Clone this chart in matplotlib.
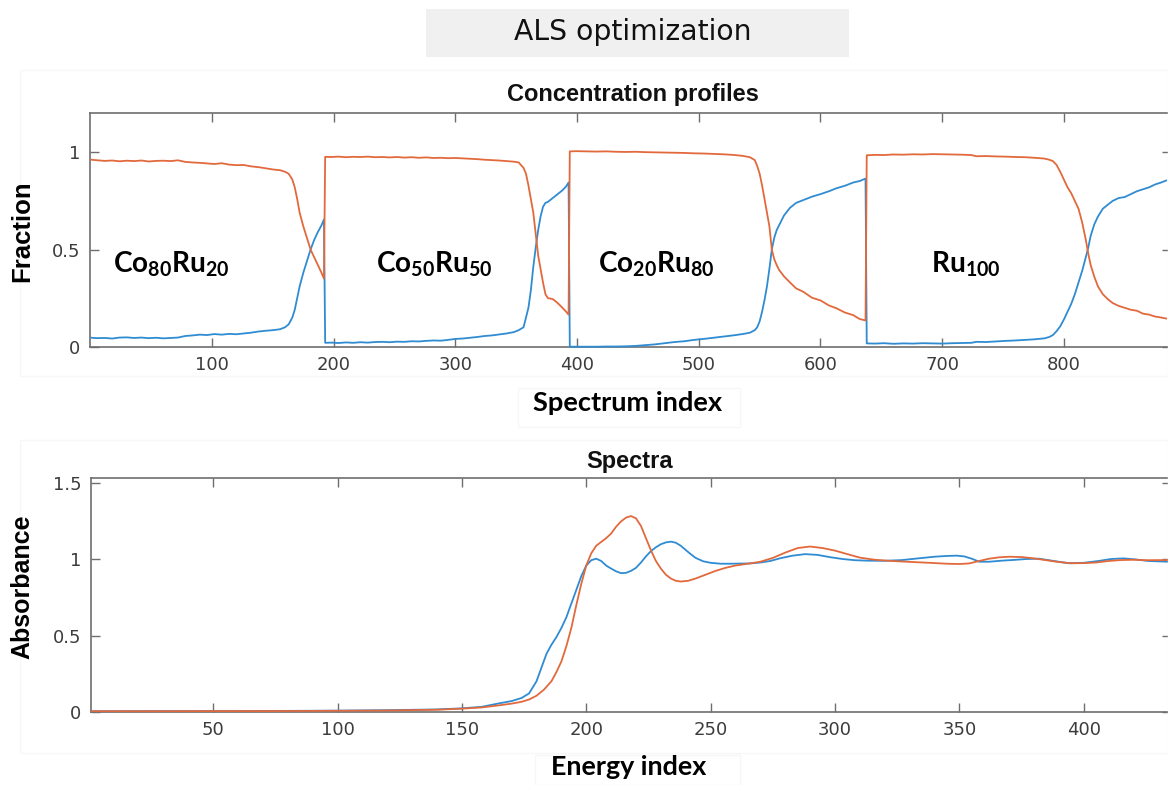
import matplotlib
matplotlib.use("Agg")
import matplotlib.pyplot as plt
from matplotlib.patches import Rectangle

# ---------------- data ----------------
# Concentration profiles: spectrum index grid and the two component fractions
profile_idx = [
    1, 6, 12, 18, 24, 30, 36, 42, 48, 54, 60, 66, 72, 78, 84, 90, 96, 102, 108, 114,
    120, 126, 132, 138, 144, 150, 156, 160, 163, 166, 168, 170, 172, 175, 178, 181, 184, 187, 190, 192,
    193, 198, 204, 210, 216, 222, 228, 234, 240, 246, 252, 258, 264, 270, 276, 282, 288, 294, 300, 306,
    312, 318, 324, 330, 336, 342, 348, 352, 356, 358, 360, 362, 364, 366, 368, 370, 372, 374, 376, 380,
    384, 388, 391, 393,
    394, 400, 408, 416, 424, 432, 440, 448, 456, 464, 472, 480, 488, 496, 504, 512, 520, 528, 536, 542,
    546, 548, 550, 552, 554, 556, 558, 560, 562, 564, 566, 570, 575, 580, 586, 593, 600, 607, 613, 620,
    627, 632, 637,
    638, 645, 652, 660, 668, 676, 684, 692, 700, 708, 716, 724, 728, 736, 744, 752, 760, 768, 776, 784,
    788, 791, 794, 797, 800, 803, 806, 809, 812, 815, 818, 820, 822, 825, 828, 832, 836, 840, 845, 850,
    855, 860, 865, 870, 875, 880, 884,
]
fraction_c1 = [
    0.962, 0.959, 0.956, 0.958, 0.954, 0.957, 0.955, 0.958, 0.953, 0.956, 0.957, 0.955, 0.959, 0.951, 0.948, 0.946, 0.943, 0.940, 0.944, 0.937,
    0.934, 0.935, 0.928, 0.924, 0.918, 0.912, 0.908, 0.900, 0.890, 0.860, 0.820, 0.760, 0.690, 0.620, 0.560, 0.500, 0.460, 0.420, 0.380, 0.350,
    0.977, 0.976, 0.978, 0.975, 0.977, 0.976, 0.978, 0.975, 0.976, 0.974, 0.976, 0.973, 0.975, 0.972, 0.974, 0.971, 0.972, 0.970, 0.971, 0.969,
    0.967, 0.965, 0.962, 0.960, 0.958, 0.955, 0.952, 0.948, 0.920, 0.890, 0.830, 0.760, 0.690, 0.580, 0.470, 0.400, 0.330, 0.270, 0.250, 0.245,
    0.225, 0.200, 0.180, 0.165,
    1.005, 1.006, 1.005, 1.004, 1.005, 1.003, 1.002, 1.003, 1.001, 1.000, 0.999, 0.998, 0.997, 0.995, 0.994, 0.992, 0.990, 0.987, 0.982, 0.975,
    0.960, 0.930, 0.890, 0.830, 0.760, 0.690, 0.620, 0.500, 0.450, 0.420, 0.395, 0.362, 0.330, 0.300, 0.282, 0.252, 0.238, 0.212, 0.198, 0.176,
    0.162, 0.143, 0.135,
    0.985, 0.987, 0.986, 0.989, 0.988, 0.990, 0.989, 0.991, 0.990, 0.989, 0.988, 0.986, 0.980, 0.981, 0.979, 0.978, 0.976, 0.975, 0.972, 0.968,
    0.962, 0.955, 0.935, 0.900, 0.860, 0.820, 0.790, 0.750, 0.710, 0.640, 0.550, 0.480, 0.420, 0.360, 0.310, 0.270, 0.245, 0.225, 0.210, 0.200,
    0.190, 0.185, 0.170, 0.165, 0.155, 0.150, 0.145,
]
fraction_c2 = [
    0.046, 0.044, 0.045, 0.042, 0.047, 0.048, 0.045, 0.047, 0.044, 0.046, 0.043, 0.045, 0.047, 0.055, 0.058, 0.062, 0.060, 0.065, 0.062, 0.066,
    0.064, 0.068, 0.072, 0.078, 0.082, 0.085, 0.090, 0.100, 0.115, 0.150, 0.190, 0.250, 0.310, 0.380, 0.440, 0.500, 0.550, 0.590, 0.625, 0.655,
    0.020, 0.021, 0.019, 0.022, 0.020, 0.023, 0.021, 0.024, 0.025, 0.023, 0.026, 0.025, 0.028, 0.027, 0.030, 0.032, 0.031, 0.035, 0.040, 0.042,
    0.046, 0.050, 0.055, 0.058, 0.063, 0.068, 0.075, 0.085, 0.100, 0.150, 0.200, 0.290, 0.410, 0.510, 0.600, 0.670, 0.720, 0.740, 0.745, 0.765,
    0.785, 0.805, 0.825, 0.845,
    0.000, 0.000, 0.000, 0.000, 0.001, 0.001, 0.002, 0.004, 0.008, 0.012, 0.018, 0.024, 0.028, 0.035, 0.040, 0.046, 0.052, 0.058, 0.065, 0.072,
    0.085, 0.100, 0.130, 0.180, 0.240, 0.310, 0.400, 0.500, 0.560, 0.600, 0.625, 0.675, 0.715, 0.740, 0.755, 0.772, 0.785, 0.800, 0.815, 0.828,
    0.845, 0.852, 0.865,
    0.017, 0.016, 0.018, 0.015, 0.017, 0.016, 0.018, 0.017, 0.016, 0.018, 0.019, 0.020, 0.025, 0.024, 0.027, 0.030, 0.032, 0.035, 0.038, 0.043,
    0.050, 0.060, 0.080, 0.105, 0.140, 0.180, 0.220, 0.270, 0.330, 0.390, 0.460, 0.510, 0.570, 0.630, 0.670, 0.710, 0.730, 0.750, 0.765, 0.770,
    0.785, 0.800, 0.810, 0.820, 0.835, 0.845, 0.855,
]

# Alloy labels with the spectrum index where each label starts
alloy_labels = [r"$Co_{80}Ru_{20}$", r"$Co_{50}Ru_{50}$", r"$Co_{20}Ru_{80}$", r"$Ru_{100}$"]
alloy_label_x = [19, 235, 417, 691]

# Spectra of the two components
energy_c1 = [1, 25, 50, 75, 100, 120, 140, 150, 158, 165, 170, 174, 177, 180, 183, 186, 188, 190, 192, 194,
             196, 198, 200, 202, 204, 206, 208, 210, 212, 214, 216, 218, 220, 222, 224, 226, 228, 230, 232, 234,
             236, 238, 241, 244, 248, 252, 256, 260, 265, 270, 275, 280, 285, 290, 295, 300, 305, 310, 316, 323,
             330, 338, 345, 350, 354, 358, 362, 366, 370, 375, 380, 385, 390, 395, 400, 405, 410, 415, 420, 425, 434]
spectrum_c1 = [0.003, 0.003, 0.004, 0.004, 0.006, 0.008, 0.013, 0.020, 0.028, 0.042, 0.053, 0.065, 0.080, 0.105, 0.145, 0.200, 0.260, 0.330, 0.430, 0.550,
               0.700, 0.840, 0.960, 1.040, 1.090, 1.115, 1.140, 1.170, 1.215, 1.250, 1.275, 1.285, 1.270, 1.220, 1.140, 1.060, 0.990, 0.940, 0.900, 0.875,
               0.860, 0.855, 0.860, 0.875, 0.900, 0.925, 0.945, 0.960, 0.972, 0.985, 1.010, 1.045, 1.075, 1.085, 1.075, 1.058, 1.035, 1.012, 0.998, 0.990,
               0.984, 0.978, 0.972, 0.970, 0.974, 0.990, 1.005, 1.014, 1.018, 1.016, 1.007, 0.995, 0.983, 0.975, 0.976, 0.980, 0.990, 0.996, 0.998, 0.995, 0.996]

energy_c2 = [1, 25, 50, 75, 100, 120, 140, 150, 158, 165, 170, 174, 177, 180, 182, 184, 186, 188, 190, 192,
             194, 196, 198, 200, 202, 204, 206, 208, 210, 212, 214, 216, 218, 220, 222, 224, 226, 228, 230, 232,
             234, 236, 238, 240, 242, 244, 247, 250, 254, 258, 262, 266, 270, 274, 278, 283, 288, 293, 298, 303,
             308, 313, 320, 327, 334, 340, 345, 349, 352, 355, 358, 362, 367, 372, 377, 382, 388, 394, 400, 406,
             411, 416, 421, 426, 434]
spectrum_c2 = [0.003, 0.004, 0.004, 0.005, 0.007, 0.010, 0.015, 0.022, 0.032, 0.055, 0.070, 0.090, 0.120, 0.200, 0.290, 0.380, 0.440, 0.490, 0.550, 0.620,
               0.710, 0.800, 0.890, 0.960, 0.995, 1.005, 0.990, 0.960, 0.940, 0.922, 0.910, 0.912, 0.925, 0.945, 0.980, 1.020, 1.055, 1.080, 1.100, 1.112,
               1.117, 1.110, 1.090, 1.062, 1.035, 1.010, 0.988, 0.978, 0.972, 0.972, 0.973, 0.974, 0.980, 0.990, 1.008, 1.025, 1.035, 1.030, 1.015, 1.003,
               0.995, 0.992, 0.991, 0.996, 1.008, 1.018, 1.023, 1.025, 1.020, 1.005, 0.985, 0.985, 0.992, 0.997, 1.003, 1.005, 0.990, 0.975, 0.978, 0.990,
               1.003, 1.007, 1.000, 0.990, 0.985]

top_xticks = [100, 200, 300, 400, 500, 600, 700, 800]
top_yticks = [0, 0.5, 1]
bottom_xticks = [50, 100, 150, 200, 250, 300, 350, 400]
bottom_yticks = [0, 0.5, 1, 1.5]

# ---------------- style ----------------
W, H = 1168, 785
BLUE = "#2f8bd2"
ORANGE = "#e2693c"
SPINE = "#6e6e6e"
TICKLBL = "#3c3c3c"

plt.rcParams["mathtext.fontset"] = "custom"
plt.rcParams["mathtext.rm"] = "Lato:bold"
plt.rcParams["mathtext.it"] = "Lato:bold"
plt.rcParams["mathtext.bf"] = "Lato:bold"
plt.rcParams["mathtext.default"] = "rm"

fig = plt.figure(figsize=(W / 100, H / 100), dpi=100)
fig.patch.set_facecolor("white")


def px_axes(left, top, right, bottom):
    return fig.add_axes([left / W, 1 - bottom / H, (right - left) / W, (bottom - top) / H])


def style_axes(ax, xticks, yticks):
    ax.set_xticks(xticks)
    ax.set_yticks(yticks)
    ax.set_yticklabels([f"{t:g}" for t in yticks])
    ax.tick_params(direction="in", length=6.5, width=1.0, color=SPINE,
                   top=True, right=True, labelsize=13, labelcolor=TICKLBL, pad=7)
    for lbl in ax.get_xticklabels() + ax.get_yticklabels():
        lbl.set_fontfamily("DejaVu Sans")
    for sp in ax.spines.values():
        sp.set_color(SPINE)
        sp.set_linewidth(1.2)


# very faint panel outlines around the two plots and axis labels
for (x0, y0, x1, y1) in [(20, 70, 1168, 376), (518, 388, 740, 427), (20, 440, 1168, 753), (535, 755, 740, 785)]:
    fig.patches.append(Rectangle((x0 / W, 1 - y1 / H), (x1 - x0) / W, (y1 - y0) / H,
                                 transform=fig.transFigure, fill=False, edgecolor="#f7f7f7", lw=1.0, zorder=0))

# title banner
fig.patches.append(Rectangle((425.7 / W, 1 - 56.7 / H), (849 - 425.7) / W, (56.7 - 9.3) / H,
                             transform=fig.transFigure, facecolor="#f0f0f0", edgecolor="none", zorder=1))
fig.text(632.5 / W, 1 - 32.5 / H, "ALS optimization", ha="center", va="center",
         fontsize=20.3, family="DejaVu Sans", color="#111111", zorder=2)

# ---------------- concentration profiles ----------------
ax1 = px_axes(90.3, 112.7, 1170.5, 346.7)
ax1.plot(profile_idx, fraction_c2, color=BLUE, lw=1.3, clip_on=False, zorder=3)
ax1.plot(profile_idx, fraction_c1, color=ORANGE, lw=1.3, clip_on=False, zorder=3)
ax1.set_xlim(0, 887.6)
ax1.set_ylim(0, 1.204)
style_axes(ax1, top_xticks, top_yticks)
for lbl, x in zip(alloy_labels, alloy_label_x):
    ax1.text(x, 0.38, lbl, fontsize=20.2, color="black", ha="left", va="baseline")
fig.text(632.5 / W, 1 - 95 / H, "Concentration profiles", ha="center", va="center",
         fontsize=17, fontweight="bold", family="Liberation Sans", color="#111111")
fig.text(22 / W, 1 - 231.5 / H, "Fraction", ha="center", va="center", rotation=90,
         fontsize=18.5, fontweight="bold", family="Liberation Sans", color="black")
fig.text(628 / W, 1 - 403 / H, "Spectrum index", ha="center", va="center",
         fontsize=19.6, fontweight="bold", family="Lato", color="black")

# ---------------- spectra ----------------
ax2 = px_axes(91.3, 477.7, 1170.5, 711.7)
ax2.plot(energy_c2, spectrum_c2, color=BLUE, lw=1.3, clip_on=False, zorder=3)
ax2.plot(energy_c1, spectrum_c1, color=ORANGE, lw=1.3, clip_on=False, zorder=3)
ax2.set_xlim(1, 434.9)
ax2.set_ylim(0, 1.537)
style_axes(ax2, bottom_xticks, bottom_yticks)
fig.text(630 / W, 1 - 461.7 / H, "Spectra", ha="center", va="center",
         fontsize=17, fontweight="bold", family="Liberation Sans", color="#111111")
fig.text(22 / W, 1 - 586.5 / H, "Absorbance", ha="center", va="center", rotation=90,
         fontsize=18, fontweight="bold", family="Liberation Sans", color="black")
fig.text(629 / W, 1 - 767 / H, "Energy index", ha="center", va="center",
         fontsize=19.4, fontweight="bold", family="Lato", color="black")

fig.savefig("out.png", dpi=100, facecolor="white")
